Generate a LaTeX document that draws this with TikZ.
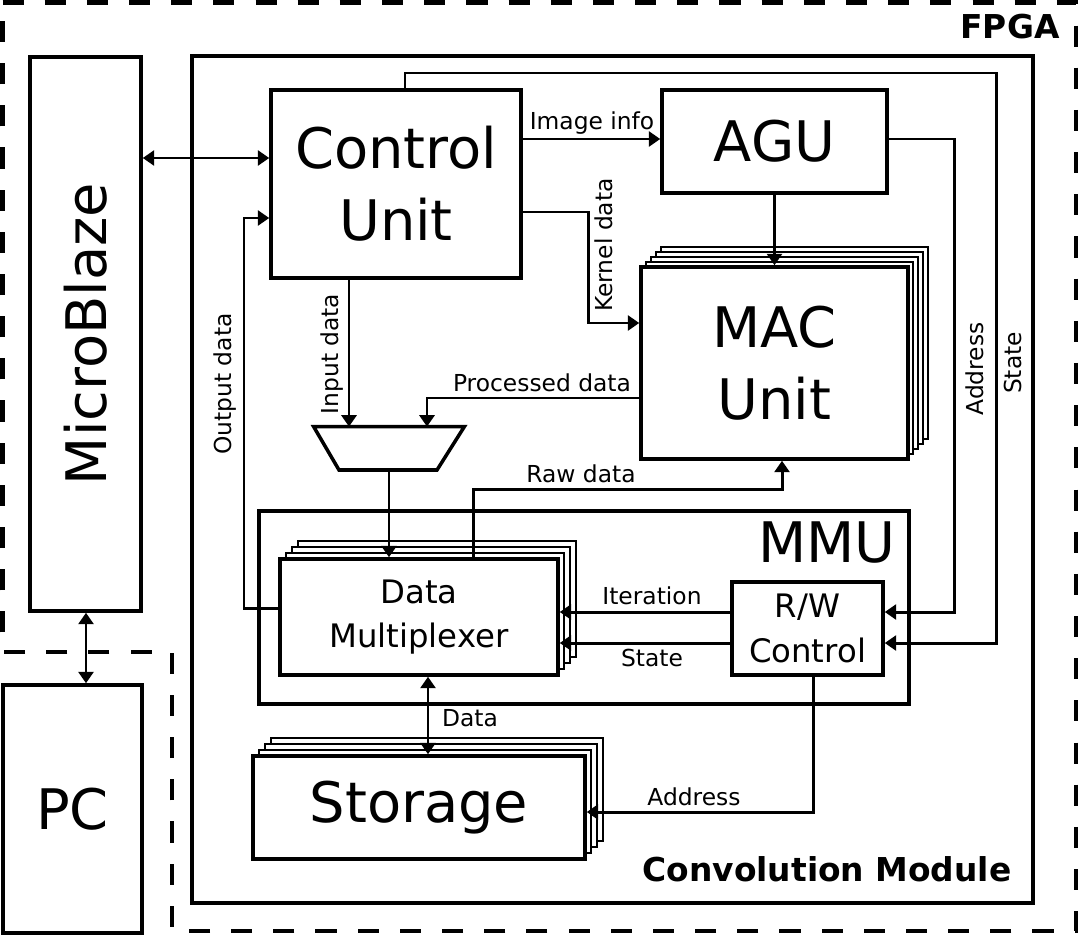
\documentclass[tikz,border=0pt]{standalone}
\usepackage{fontspec}
\setmainfont{DejaVu Sans}
\usetikzlibrary{arrows.meta,calc}
\begin{document}
\begin{tikzpicture}[x=0.2mm,y=-0.2mm,
  box/.style={draw, line width=2pt, fill=white, inner sep=0pt, align=center},
  copybox/.style={draw, line width=1.5pt, fill=white},
  bigtxt/.style={font=\fontsize{31.8}{40.8}\selectfont},
  midtxt/.style={font=\fontsize{18.4}{25.5}\selectfont},
  lbl/.style={font=\fontsize{13.3}{16}\selectfont, inner sep=0pt},
  boldtxt/.style={font=\fontsize{18.7}{22}\selectfont\bfseries, inner sep=0pt},
  wire/.style={line width=1.7pt},
  arr/.style={wire, -{Triangle[length=6.5pt,width=8.5pt]}},
  darr/.style={wire, {Triangle[length=6.5pt,width=8.5pt]}-{Triangle[length=6.5pt,width=8.5pt]}},
  fpga/.style={line width=2.8pt, dash pattern=on 12pt off 12pt},
  wh/.style 2 args={minimum width=#1*0.2mm, minimum height=#2*0.2mm},
]
\useasboundingbox (0,0) rectangle (1081,935);

% FPGA region
\draw[fpga] (2.5,2.5) -- (1076,2.5) -- (1076,931) -- (172,931) -- (172,652) -- (2.5,652) -- cycle;
\node[boldtxt] (fpgalbl) at (1010,27) {FPGA};

% Convolution module and MMU
\node[draw, line width=2pt, inner sep=0pt, wh={841}{847}] (conv) at (612.5,479.5) {};
\node[boldtxt] (convlbl) at (827,869) {Convolution Module};
\node[draw, line width=2pt, inner sep=0pt, wh={650}{193}] (mmu) at (584,607.5) {};
\node[bigtxt, inner sep=0pt] (mmulbl) at (827,543) {MMU};

% stacks
\foreach \k in {4,3,2,1} {
  \draw[copybox] (641+5*\k,267-5*\k) rectangle (908+5*\k,459-5*\k);
}
\foreach \k in {3,2,1} {
  \draw[copybox] (280+6*\k,559-6*\k) rectangle (558+6*\k,675-6*\k);
  \draw[copybox] (253+6*\k,756-6*\k) rectangle (585+6*\k,859-6*\k);
}

% main blocks
\node[box, bigtxt, wh={111}{554}] (mb) at (85.5,334) {\rotatebox{90}{MicroBlaze}};
\node[box, bigtxt, wh={139}{248}] (pc) at (72.5,809) {PC};
\node[box, bigtxt, wh={250}{188}] (cu) at (396,184) {Control\\Unit};
\node[box, bigtxt, wh={225}{103}] (agu) at (774.5,141.5) {AGU};
\node[box, bigtxt, wh={267}{192}] (mac) at (774.5,363) {MAC\\Unit};
\node[box, midtxt, wh={278}{116}] (dm) at (419,617) {Data\\Multiplexer};
\node[box, midtxt, wh={151}{93}] (rw) at (807.5,628.5) {R/W\\Control};
\node[box, bigtxt, wh={332}{103}] (st) at (419,807.5) {Storage};

% multiplexer trapezoid
\node[inner sep=0pt, wh={150}{43}] (mux) at (389,448.5) {};
\draw[line width=2pt, fill=white] (mux.north west) -- (mux.north east) -- (437,470) -- (339,470) -- cycle;

% connectors
\draw[darr] (mb.east |- 0,158) -- (cu.west |- 0,158);
\draw[darr] (mb.south -| 86,0) -- (pc.north -| 86,0);
\draw[arr] (cu.east |- 0,139) -- (agu.west |- 0,139);
\draw[arr] (cu.east |- 0,212) -- (588,212) -- (588,323) -- (mac.west |- 0,323);
\draw[arr] (agu.south) -- (mac.north);
\draw[arr] (cu.north -| 405,0) -- (405,73) -- (996,73) -- (996,643) -- (rw.east |- 0,643);
\draw[arr] (agu.east |- 0,139) -- (954,139) -- (954,612) -- (rw.east |- 0,612);
\draw[arr] (cu.south -| 349,0) -- (mux.north -| 349,0);
\draw[arr] (mac.west |- 0,398) -- (427,398) -- (mux.north -| 427,0);
\draw[arr] (mux.south) -- (dm.north -| mux.south);
\draw[arr] (dm.north -| 473,0) -- (473,489) -- (782,489) -- (mac.south -| 782,0);
\draw[arr] (dm.west |- 0,608) -- (244,608) -- (244,218) -- (cu.west |- 0,218);
\draw[arr] (rw.west |- 0,612) -- (dm.east |- 0,612);
\draw[arr] (rw.west |- 0,643) -- (dm.east |- 0,643);
\draw[darr] (dm.south -| 428,0) -- (st.north -| 428,0);
\draw[arr] (rw.south -| 813,0) -- (813,812) -- (st.east |- 0,812);

% labels
\node[lbl] (limg) at (592,123) {Image info};
\node[lbl, rotate=90] (lker) at (604,245) {Kernel data};
\node[lbl, rotate=90] (linp) at (332,354) {Input data};
\node[lbl, rotate=90] (lout) at (225,384) {Output data};
\node[lbl] (lproc) at (542,383) {Processed data};
\node[lbl] (lraw) at (581,474) {Raw data};
\node[lbl] (liter) at (652,596) {Iteration};
\node[lbl] (lstate) at (652,658) {State};
\node[lbl] (ldata) at (470,718) {Data};
\node[lbl] (laddr) at (694,797) {Address};
\node[lbl, rotate=90] (laddrv) at (975,369) {Address};
\node[lbl, rotate=90] (lstatev) at (1013,363) {State};
\end{tikzpicture}
\end{document}
